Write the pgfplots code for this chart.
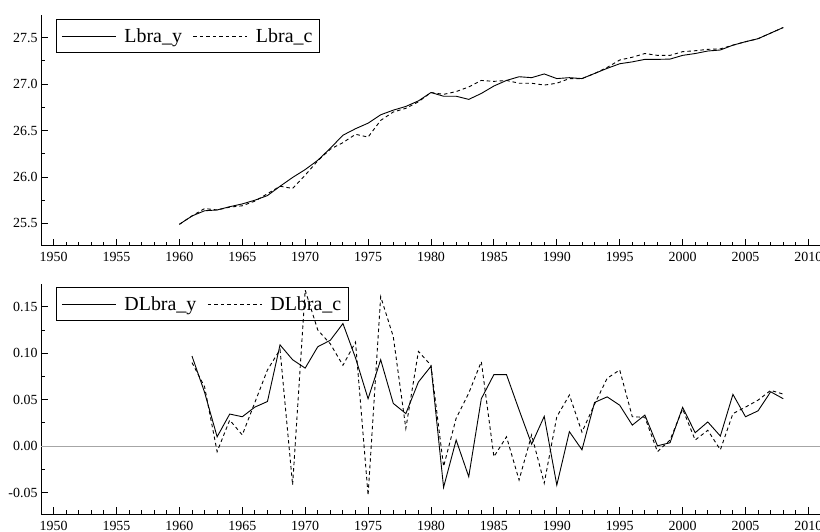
\documentclass[border=0pt]{standalone}
\usepackage{fontspec}
\setmainfont{Liberation Serif}
\usepackage{pgfplots}
\pgfplotsset{compat=1.18}
\usepackage{pgfplotstable}

\pgfplotstableread{
year y c
1960 25.49 25.49
1961 25.58 25.58
1962 25.636 25.66
1963 25.645 25.645
1964 25.68 25.675
1965 25.71 25.69
1966 25.75 25.74
1967 25.80 25.82
1968 25.90 25.90
1969 25.995 25.877
1970 26.08 26.02
1971 26.18 26.175
1972 26.31 26.30
1973 26.45 26.37
1974 26.52 26.46
1975 26.58 26.43
1976 26.67 26.61
1977 26.72 26.70
1978 26.76 26.74
1979 26.82 26.81
1980 26.91 26.91
1981 26.87 26.89
1982 26.87 26.92
1983 26.836 26.97
1984 26.90 27.04
1985 26.98 27.03
1986 27.04 27.04
1987 27.08 27.01
1988 27.07 27.01
1989 27.11 26.99
1990 27.06 27.01
1991 27.07 27.06
1992 27.06 27.06
1993 27.115 27.115
1994 27.17 27.18
1995 27.22 27.26
1996 27.24 27.29
1997 27.267 27.33
1998 27.267 27.31
1999 27.27 27.31
2000 27.31 27.35
2001 27.33 27.36
2002 27.357 27.375
2003 27.368 27.38
2004 27.42 27.42
2005 27.457 27.457
2006 27.49 27.49
2007 27.55 27.55
2008 27.61 27.61
}\toptable

\pgfplotstableread{
year y c
1961 0.097 0.090
1962 0.058 0.064
1963 0.010 -0.006
1964 0.0345 0.028
1965 0.0316 0.012
1966 0.042 0.047
1967 0.048 0.082
1968 0.109 0.104
1969 0.093 -0.042
1970 0.084 0.168
1971 0.107 0.125
1972 0.114 0.110
1973 0.132 0.087
1974 0.095 0.112
1975 0.051 -0.053
1976 0.093 0.161
1977 0.046 0.118
1978 0.035 0.019
1979 0.069 0.102
1980 0.086 0.087
1981 -0.0445 -0.022
1982 0.0065 0.030
1983 -0.033 0.057
1984 0.051 0.091
1985 0.077 -0.0115
1986 0.077 0.010
1987 0.039 -0.0366
1988 0.002 0.012
1989 0.032 -0.040
1990 -0.042 0.0316
1991 0.0155 0.055
1992 -0.004 0.015
1993 0.047 0.045
1994 0.053 0.073
1995 0.044 0.082
1996 0.0226 0.0316
1997 0.0334 0.031
1998 0.0003 -0.006
1999 0.0036 0.0065
2000 0.0417 0.040
2001 0.0144 0.0065
2002 0.026 0.017
2003 0.0108 -0.004
2004 0.0557 0.035
2005 0.0316 0.042
2006 0.038 0.0495
2007 0.0585 0.060
2008 0.051 0.056
}\bottable

\pgfplotsset{
  mystyle/.style={
    scale only axis, width=780bp,
    xmin=1949, xmax=2011,
    axis lines=left,
    axis line style={-, line width=1bp, black},
    xtick={1950,1955,...,2010}, minor x tick num=4,
    minor y tick num=1,
    tick align=inside,
    major tick length=7bp, minor tick length=4bp,
    tick style={black, line width=0.9bp},
    /pgf/number format/assume math mode=true,
    /pgf/number format/1000 sep={},
    tick label style={font=\fontsize{14}{14}\selectfont},
    xticklabel style={yshift=-3bp},
    clip=false,
    legend columns=2,
    legend cell align=left,
    legend style={font=\fontsize{20}{20}\selectfont, fill=none, draw=black,
      line width=1bp, anchor=north west, inner xsep=5bp, inner ysep=7bp,
      /tikz/every odd column/.append style={column sep=6bp},
      /tikz/every even column/.append style={column sep=9bp}},
  },
  mylegend/.style={legend image code/.code={\draw[##1, line width=1bp] (0bp,0bp) -- (54bp,0bp);}},
}

\begin{document}
\begin{tikzpicture}
\useasboundingbox (0,0) rectangle (820bp,532bp);
\begin{axis}[mystyle, mylegend,
  at={(41bp,286.3bp)}, anchor=south west, height=230.7bp,
  ymin=25.26, ymax=27.745,
  ytick={25.5,26.0,26.5,27.0,27.5},
  yticklabels={25.5,26.0,26.5,27.0,27.5},
  legend style={at={(0.0192,0.983)}},
]
\addplot[black, line width=0.9bp] table[x=year,y=y] {\toptable};
\addlegendentry{Lbra\_y}
\addplot[black, line width=0.9bp, dash pattern=on 3.5bp off 3bp] table[x=year,y=c] {\toptable};
\addlegendentry{Lbra\_c}
\end{axis}
\begin{axis}[mystyle, mylegend,
  at={(41bp,17.7bp)}, anchor=south west, height=230.3bp,
  ymin=-0.0735, ymax=0.1746,
  ytick={-0.05,0,0.05,0.10,0.15},
  yticklabels={-0.05,0.00,0.05,0.10,0.15},
  legend style={at={(0.0192,0.987)}},
]
\addplot[gray!70, line width=0.9bp, forget plot] coordinates {(1949,0) (2011,0)};
\addplot[black, line width=0.9bp] table[x=year,y=y] {\bottable};
\addlegendentry{DLbra\_y}
\addplot[black, line width=0.9bp, dash pattern=on 3.5bp off 3bp] table[x=year,y=c] {\bottable};
\addlegendentry{DLbra\_c}
\end{axis}
\end{tikzpicture}
\end{document}
